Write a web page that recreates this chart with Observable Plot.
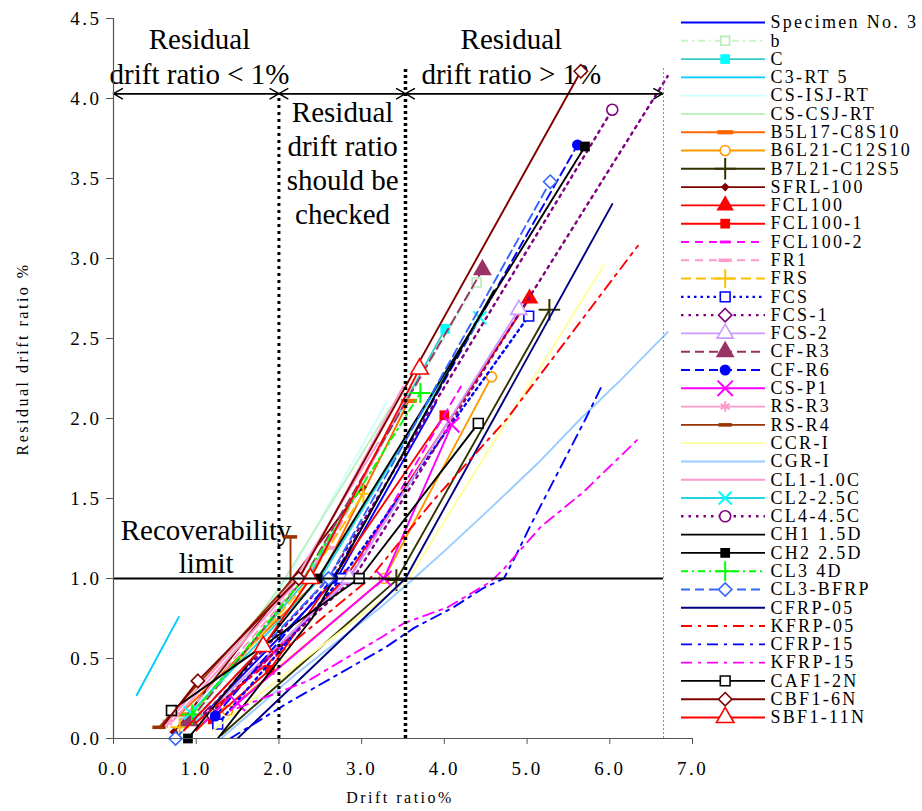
<!DOCTYPE html>
<html><head><meta charset="utf-8">
<script src="https://cdn.jsdelivr.net/npm/d3@7"></script>
<script src="https://cdn.jsdelivr.net/npm/@observablehq/plot@0.6"></script>
<style>
body{margin:0;background:#fff;}
#wrap{position:relative;width:922px;height:811px;overflow:hidden;background:#fff;}
#wrap > svg{position:absolute;top:0;}
</style></head>
<body><div id="wrap"></div>
<script>
// ---------- data (drift ratio %, residual drift ratio %) ----------
const NAMES = ["Specimen No. 3","b","C","C3-RT 5","CS-ISJ-RT","CS-CSJ-RT","B5L17-C8S10","B6L21-C12S10","B7L21-C12S5","SFRL-100","FCL100","FCL100-1","FCL100-2","FR1","FRS","FCS","FCS-1","FCS-2","CF-R3","CF-R6","CS-P1","RS-R3","RS-R4","CCR-I","CGR-I","CL1-1.0C","CL2-2.5C","CL4-4.5C","CH1 1.5D","CH2 2.5D","CL3 4D","CL3-BFRP","CFRP-05","KFRP-05","CFRP-15","KFRP-15","CAF1-2N","CBF1-6N","SBF1-11N"];

const S_SPECIMEN3 = [[1.0,0.1],[2.7,1.0],[3.9,2.1]];
const S_B         = [[0.9,0.08],[2.3,1.0],[4.39,2.85]];
const S_C         = [[0.85,0.1],[2.35,1.0],[4.01,2.56]];
const S_C3RT5     = [[0.28,0.27],[0.79,0.76]];
const S_CSISJ     = [[0.8,0.05],[2.1,1.0],[3.3,2.1]];
const S_CSCSJ     = [[0.9,0.15],[2.0,0.94],[3.35,2.07]];
const S_B5L17     = [[0.8,0.15],[2.5,1.0],[3.57,2.11]];
const S_B6L21     = [[1.38,0.175],[3.27,1.0],[4.57,2.26]];
const S_B7L21     = [[1.3,0.02],[3.42,0.99],[5.27,2.68]];
const S_SFRL100   = [[0.73,0.04],[3.01,1.57]];
const S_FCL100    = [[1.0,0.05],[2.8,1.0],[5.03,2.75]];
const S_FCL100_1  = [[1.2,0.12],[1.89,0.43],[4.0,2.02]];
const S_FCL100_2  = [[1.1,0.1],[2.85,1.0],[4.2,2.2]];
const S_FR1       = [[0.8,0.1],[2.6,1.19],[3.6,2.2]];
const S_FRS       = [[0.8,0.07],[2.3,0.95],[3.02,1.53]];
const S_FCS       = [[1.26,0.09],[2.75,1.0],[5.02,2.64]];
const S_FCS1      = [[1.17,0.16],[2.9,1.0],[6.7,4.14]];
const S_FCS2      = [[1.0,0.1],[2.85,1.0],[4.9,2.68]];
const S_CFR3      = [[0.92,0.11],[2.3,1.0],[4.46,2.93]];
const S_CFR6      = [[1.23,0.14],[2.65,1.0],[5.61,3.71]];
const S_CSP1      = [[1.5,0.22],[3.27,1.0],[4.09,1.96]];
const S_RSR3      = [[0.65,0.1],[2.2,1.0],[3.2,1.85]];
const S_RSR4      = [[0.55,0.07],[2.14,0.98],[2.14,1.26]];
const S_CCRI      = [[1.2,0.05],[3.57,1.0],[5.93,2.96]];
const S_CGRI      = [[1.3,0.0],[2.2,0.4],[3.23,0.82],[3.63,1.0],[4.04,1.19],[4.56,1.44],[5.13,1.72],[5.65,2.0],[6.13,2.24],[6.7,2.54]];
const S_CL1       = [[0.7,0.1],[2.25,1.0],[3.5,2.2]];
const S_CL2       = [[0.93,0.16],[2.5,1.0],[4.43,2.63]];
const S_CL4       = [[1.1,0.15],[2.6,1.0],[6.03,3.93]];
const S_CH1       = [[1.26,0.0],[2.4,0.75],[4.0,2.25],[4.6,2.8]];
const S_CH2       = [[0.9,0.0],[2.47,1.0],[5.7,3.7]];
const S_CL3_4D    = [[0.95,0.15],[2.3,1.0],[3.71,2.16]];
const S_CL3BFRP   = [[0.75,0.0],[2.6,1.0],[5.28,3.48]];
const S_CFRP05    = [[1.5,0.0],[3.53,1.0],[6.03,3.34]];
const S_KFRP05    = [[1.0,0.1],[3.1,1.0],[3.87,1.49],[4.76,2.0],[6.34,3.08]];
const S_CFRP15    = [[1.41,0.0],[2.1,0.22],[3.29,0.57],[3.63,0.69],[4.11,0.82],[4.47,0.94],[4.72,1.0],[4.88,1.16],[5.04,1.33],[5.32,1.61],[5.71,2.0],[5.89,2.19]];
const S_KFRP15    = [[1.5,0.19],[2.35,0.36],[3.23,0.63],[3.51,0.72],[4.04,0.82],[4.56,0.98],[4.72,1.06],[5.16,1.32],[5.68,1.54],[6.34,1.87]];
const S_CAF1      = [[0.7,0.175],[2.97,1.0],[4.41,1.97]];
const S_CBF1      = [[0.6,0.08],[1.02,0.36],[2.24,1.0],[5.65,4.17]];
const S_SBF1      = [[0.85,0.05],[1.81,0.575],[2.38,1.0],[3.7,2.31]];

const SERIES = [S_SPECIMEN3,S_B,S_C,S_C3RT5,S_CSISJ,S_CSCSJ,S_B5L17,S_B6L21,S_B7L21,S_SFRL100,S_FCL100,S_FCL100_1,S_FCL100_2,S_FR1,S_FRS,S_FCS,S_FCS1,S_FCS2,S_CFR3,S_CFR6,S_CSP1,S_RSR3,S_RSR4,S_CCRI,S_CGRI,S_CL1,S_CL2,S_CL4,S_CH1,S_CH2,S_CL3_4D,S_CL3BFRP,S_CFRP05,S_KFRP05,S_CFRP15,S_KFRP15,S_CAF1,S_CBF1,S_SBF1];

const X_TICKS = [0,1,2,3,4,5,6,7];
const Y_TICKS = [0,0.5,1,1.5,2,2.5,3,3.5,4,4.5];

// annotations
const ANN_TEXT = ["Residual","drift ratio < 1%","Residual","drift ratio","should be","checked","Residual","drift ratio > 1%","Recoverability","limit"];
const ANN_X = [1.04,1.04,2.77,2.77,2.77,2.77,4.81,4.81,1.12,1.12];
const ANN_Y = [4.365,4.15,3.91,3.70,3.485,3.275,4.365,4.15,1.30,1.09];
const RECOV_Y = 1.0, RECOV_X2 = 6.65;
const ZONE_X = [2.0, 3.53];
const ZONE_TOP = [4.03, 4.2];
const LIMIT_X = 6.65, LIMIT_TOP = 4.2;
const ARROW_Y = 4.03;
const ARROW_X1 = [0, 2.0, 3.53];
const ARROW_X2 = [2.0, 3.53, 6.64];

// ---------- styles ----------
const dashSym = {draw(ctx, size){ const w = Math.sqrt(size)*0.75, h = Math.sqrt(size)*0.2; ctx.moveTo(-w,-h); ctx.lineTo(w,-h); ctx.lineTo(w,h); ctx.lineTo(-w,h); ctx.closePath(); }};
const F = "filled", O = "open", K = "stroke";
const STYLE = [
 {c:"#0000FF"},
 {c:"#C8F5C8", dash:"7,4,2,4", sym:"square", t:O, r:5, mc:"#B5EBB5", mi:[2]},
 {c:"#33CCCC", sym:"square", t:F, r:5.5, mc:"#00FFFF", mi:[0,2]},
 {c:"#00CCFF"},
 {c:"#CCFFFF"},
 {c:"#BFF0BF"},
 {c:"#FF6600", sym:dashSym, t:F, r:6, mi:[0,2]},
 {c:"#FF9900", sym:"circle", t:O, r:5},
 {c:"#333300", sym:"plus", t:K, r:7, mi:[1,2]},
 {c:"#800000", sym:"diamond2", t:F, r:4},
 {c:"#FF0000", sym:"triangle", t:F, r:6.5, mi:[1,2]},
 {c:"#FF0000", sym:"square", t:F, r:5.5},
 {c:"#FF00FF", dash:"8,6", sym:dashSym, t:F, r:4, mi:[1]},
 {c:"#FF99CC", dash:"8,6", sym:dashSym, t:F, r:5, mi:[1]},
 {c:"#FFC000", dash:"10,5", sym:"plus", t:K, r:6, mi:[0,2]},
 {c:"#0000FF", dash:"2.5,4", w:2.4, sym:"square", t:O, r:5.5},
 {c:"#800080", dash:"2.5,5", w:2.4, sym:"diamond2", t:O, r:6, mi:[0]},
 {c:"#CC99FF", sym:"triangle", t:O, r:6, mi:[1,2]},
 {c:"#993366", dash:"9,5", sym:"triangle", t:F, r:7, mi:[0,2]},
 {c:"#0000FF", dash:"9,5", sym:"circle", t:F, r:5.5},
 {c:"#FF00FF", sym:"times", t:K, r:7},
 {c:"#FF99CC", sym:"asterisk", t:K, r:5, mi:[0]},
 {c:"#993300", sym:dashSym, t:F, r:5, mi:[0,2]},
 {c:"#FFFF99"},
 {c:"#99CCFF"},
 {c:"#FF99CC"},
 {c:"#22D8E0", sym:"times", t:K, r:6, mc:"#00FFFF", mi:[0,2]},
 {c:"#800080", dash:"2.5,5", w:2.4, sym:"circle", t:O, r:5.5, mi:[2]},
 {c:"#000000"},
 {c:"#000000", sym:"square", t:F, r:5.5},
 {c:"#00FF00", dash:"7,4,2,4", sym:"plus", t:K, r:6.5, mi:[0,2]},
 {c:"#3366FF", dash:"9,5", sym:"diamond2", t:O, r:6},
 {c:"#000080"},
 {c:"#FF0000", dash:"11,6,3,6"},
 {c:"#0000FF", dash:"11,6,3,6"},
 {c:"#FF00FF", dash:"11,6,3,6"},
 {c:"#000000", sym:"square", t:O, r:5.5},
 {c:"#800000", sym:"diamond2", t:O, r:6, mi:[1,2,3]},
 {c:"#FF0000", sym:"triangle", t:O, r:6.5, mi:[1,2,3]}
];

function dotOpts(s, extra){
  const mc = s.mc || s.c;
  const o = {symbol: s.sym, r: s.r, ...extra};
  if (s.t === F) { o.fill = mc; o.stroke = "none"; }
  else if (s.t === O) { o.fill = "#fff"; o.stroke = mc; o.strokeWidth = 1.6; }
  else { o.fill = "none"; o.stroke = mc; o.strokeWidth = 2; }
  return o;
}

// ---------- main chart ----------
const FONT = "'Liberation Serif','Times New Roman',serif";
const marks = [];
marks.push(Plot.text(ANN_TEXT, {x:(d,i)=>ANN_X[i], y:(d,i)=>ANN_Y[i], text:d=>d, fontSize:29, lineAnchor:"middle", fill:"#000"}));

SERIES.forEach((pts, k) => {
  const s = STYLE[k];
  marks.push(Plot.line(pts, {x:d=>d[0], y:d=>d[1], stroke:s.c, strokeWidth:s.w || 1.9, strokeDasharray:s.dash, clip:true}));
  if (s.sym) {
    const mp = s.mi ? s.mi.map(i => pts[i]) : pts;
    marks.push(Plot.dot(mp, dotOpts(s, {x:d=>d[0], y:d=>d[1]})));
  }
});

marks.push(Plot.ruleY([RECOV_Y], {x1:0, x2:RECOV_X2, stroke:"#000", strokeWidth:2}));
marks.push(Plot.ruleX([ZONE_X[0]], {y1:0, y2:ZONE_TOP[0], stroke:"#000", strokeWidth:3, strokeDasharray:"3,4"}));
marks.push(Plot.ruleX([ZONE_X[1]], {y1:0, y2:ZONE_TOP[1], stroke:"#000", strokeWidth:3.5, strokeDasharray:"3,3"}));
marks.push(Plot.ruleX([LIMIT_X], {y1:0, y2:LIMIT_TOP, stroke:"#888", strokeWidth:1, strokeDasharray:"2,2"}));
const AI = ARROW_X1.map((d,i)=>i);
marks.push(Plot.arrow(AI, {x1:i=>ARROW_X1[i], x2:i=>ARROW_X2[i], y1:ARROW_Y, y2:ARROW_Y, stroke:"#000", strokeWidth:1.4, headLength:11, bend:0, insetStart:0, insetEnd:0}));
marks.push(Plot.arrow(AI, {x1:i=>ARROW_X2[i], x2:i=>ARROW_X1[i], y1:ARROW_Y, y2:ARROW_Y, stroke:"#000", strokeWidth:1.4, headLength:11, bend:0, insetStart:0, insetEnd:0}));

marks.push(Plot.ruleY([0], {stroke:"#555", strokeWidth:1.2}));
marks.push(Plot.ruleX([0], {stroke:"#555", strokeWidth:1.2}));
marks.push(Plot.axisX({ticks:X_TICKS, tickFormat:d=>d.toFixed(1), tickSize:6, tickPadding:17, fontSize:19, label:null, stroke:"#555"}));
marks.push(Plot.axisY({ticks:Y_TICKS, tickFormat:d=>d.toFixed(1), tickSize:7, tickPadding:5, fontSize:19, label:null, stroke:"#555"}));
marks.push(Plot.text(["Drift ratio%"], {frameAnchor:"bottom", dy:64, dx:-3, fontSize:16}));
marks.push(Plot.text(["Residual drift ratio %"], {frameAnchor:"left", rotate:-90, textAnchor:"start", dx:-91, dy:77, fontSize:16}));

const chart = Plot.plot({
  width:922, height:811,
  marginLeft:113, marginRight:230, marginTop:18, marginBottom:73,
  x:{domain:[0,7]}, y:{domain:[0,4.5]},
  style:{fontFamily:FONT, background:"#fff", overflow:"visible"},
  marks
});
chart.style.left = "0px";
document.getElementById("wrap").appendChild(chart);
// letter spacing for tick labels and axis titles (font sizes 19 and 16)
d3.select(chart).selectAll("g").filter(function(){ const f = this.getAttribute("font-size"); return f === "19" || f === "16"; })
  .selectAll("text").style("letter-spacing", "2.5px");

// ---------- legend ----------
const lmarks = [];
NAMES.forEach((name, k) => {
  const s = STYLE[k];
  lmarks.push(Plot.ruleY([k], {x1:0, x2:1, y:d=>d, stroke:s.c, strokeWidth:s.w || 1.9, strokeDasharray:s.dash}));
  if (s.sym) lmarks.push(Plot.dot([k], dotOpts(s, {x:0.52, y:d=>d})));
});
lmarks.push(Plot.text(NAMES, {x:1, y:(d,i)=>i, text:d=>d, dx:5, textAnchor:"start", fontSize:18, fill:"#000"}));
const legend = Plot.plot({
  width:241, height:811, marginLeft:0, marginRight:0, marginTop:0, marginBottom:0,
  x:{domain:[0,1], range:[0,84]},
  y:{domain:[0,NAMES.length-1], range:[22,717]},
  axis:null,
  style:{fontFamily:FONT, background:"transparent", overflow:"visible"},
  marks:lmarks
});
legend.style.left = "681px";
document.getElementById("wrap").appendChild(legend);
d3.select(legend).selectAll("text").style("letter-spacing", "2.3px");
</script>
</body></html>
